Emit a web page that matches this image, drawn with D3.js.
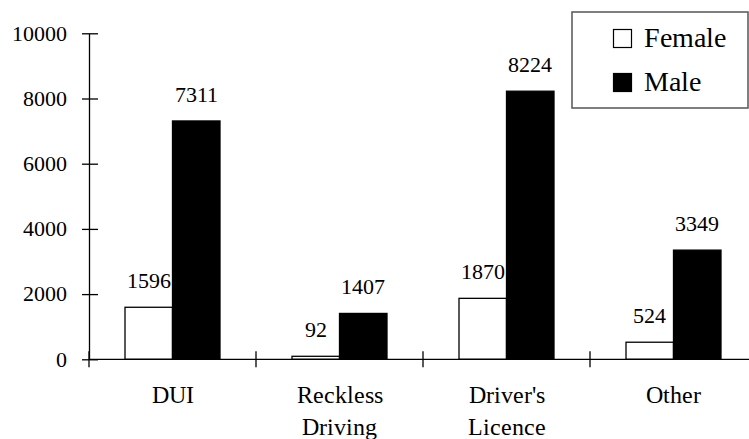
<!DOCTYPE html>
<html>
<head>
<meta charset="utf-8">
<script src="https://cdn.jsdelivr.net/npm/d3@7"></script>
<style>
  @font-face { font-family: "ChartSerif"; src: local("Liberation Serif"), local("LiberationSerif"), local("LiberationSerif-Regular"), local("Times New Roman"); }
  body { margin: 0; }
  svg text, svg tspan { font-family: "ChartSerif", "Liberation Serif", "Times New Roman", serif !important; }
</style>
</head>
<body>
<svg id="chart" width="749" height="439"></svg>
<script>
// Traffic offences by gender
const categories = [["DUI"], ["Reckless", "Driving"], ["Driver's", "Licence"], ["Other"]];
const seriesNames = ["Female", "Male"];
const female = [1596, 92, 1870, 524];
const male = [7311, 1407, 8224, 3349];
const yTicks = [0, 2000, 4000, 6000, 8000, 10000];

const FONT = "'ChartSerif', 'Liberation Serif', 'Times New Roman', serif";
const svg = d3.select("#chart");
const catKeys = categories.map(c => c.join(" "));
const rows = catKeys.map((k, i) => ({ key: k, lines: categories[i], values: [female[i], male[i]] }));

const x0 = d3.scaleBand().domain(catKeys).range([89, 757]).padding(0);
const x1 = d3.scaleBand().domain(seriesNames).range([0, x0.bandwidth()])
  .paddingInner(0).paddingOuter(0.758);
const y = d3.scaleLinear().domain([0, 10000]).range([359.3, 33.3]);

const fills = { Female: "#fff", Male: "#000" };
const serif = sel => sel.attr("font-family", FONT).style("font-family", FONT, "important");

// Y axis: ticks crossing the axis line
const yAxis = svg.append("g").attr("transform", "translate(89,0)")
  .call(d3.axisLeft(y).tickValues(yTicks).tickSize(0).tickPadding(0).tickFormat(d3.format("d")));
serif(yAxis);
yAxis.select(".domain").attr("stroke", "#000").attr("stroke-width", 1.3);
yAxis.selectAll(".tick line").attr("x1", -7).attr("x2", 9).attr("stroke", "#000").attr("stroke-width", 1.3);
yAxis.selectAll(".tick text")
  .attr("x", -22).attr("dy", "0.32em")
  .attr("font-size", 21.5)
  .call(serif);

// Bars
const groups = svg.append("g").selectAll("g").data(rows).join("g")
  .attr("transform", d => `translate(${x0(d.key)},0)`);

groups.selectAll("rect").data(d => d.values.map((v, i) => ({ name: seriesNames[i], value: v })))
  .join("rect")
  .attr("x", d => x1(d.name))
  .attr("y", d => y(d.value))
  .attr("width", x1.bandwidth())
  .attr("height", d => y(0) - y(d.value))
  .attr("fill", d => fills[d.name])
  .attr("stroke", "#000")
  .attr("stroke-width", 1.3);

// Value labels
groups.selectAll("text.val").data(d => d.values.map((v, i) => ({ name: seriesNames[i], value: v })))
  .join("text").attr("class", "val")
  .attr("x", d => x1(d.name) + x1.bandwidth() / 2)
  .attr("y", d => y(d.value) - 19)
  .attr("text-anchor", "middle")
  .attr("font-size", 21.5)
  .call(serif)
  .text(d => d.value);

// X axis line and category separators
const xAxis = svg.append("g");
xAxis.append("line").attr("x1", 89).attr("x2", 749).attr("y1", y(0)).attr("y2", y(0))
  .attr("stroke", "#000").attr("stroke-width", 1.3);
const seps = catKeys.map(k => x0(k)).concat([x0.range()[1]]);
xAxis.selectAll("line.sep").data(seps).join("line").attr("class", "sep")
  .attr("x1", d => d).attr("x2", d => d)
  .attr("y1", y(0) - 8).attr("y2", y(0) + 8)
  .attr("stroke", "#000").attr("stroke-width", 1.3);

// Category labels, one tspan per line
const catText = svg.append("g").selectAll("text").data(rows).join("text")
  .attr("x", d => x0(d.key) + x0.bandwidth() / 2)
  .attr("y", 403)
  .attr("text-anchor", "middle")
  .attr("font-size", 23.5)
  .call(serif);
catText.selectAll("tspan").data(d => d.lines).join("tspan")
  .attr("x", function () { return d3.select(this.parentNode).attr("x"); })
  .attr("dy", (d, i) => i === 0 ? 0 : 31.5)
  .call(serif)
  .text(d => d);

// Legend
const legend = svg.append("g");
legend.append("rect").attr("x", 572).attr("y", 12).attr("width", 176).attr("height", 96)
  .attr("fill", "#fff").attr("stroke", "#555").attr("stroke-width", 1.5);
const items = legend.selectAll("g.item").data(seriesNames).join("g").attr("class", "item")
  .attr("transform", (d, i) => `translate(613,${29 + i * 44})`);
items.append("rect").attr("x", 0.5).attr("y", 0.5).attr("width", 18).attr("height", 18)
  .attr("fill", d => fills[d]).attr("stroke", "#000").attr("stroke-width", 1.2);
items.append("text").attr("x", 31).attr("y", 18)
  .attr("font-size", 28)
  .call(serif)
  .text(d => d);
</script>
</body>
</html>
